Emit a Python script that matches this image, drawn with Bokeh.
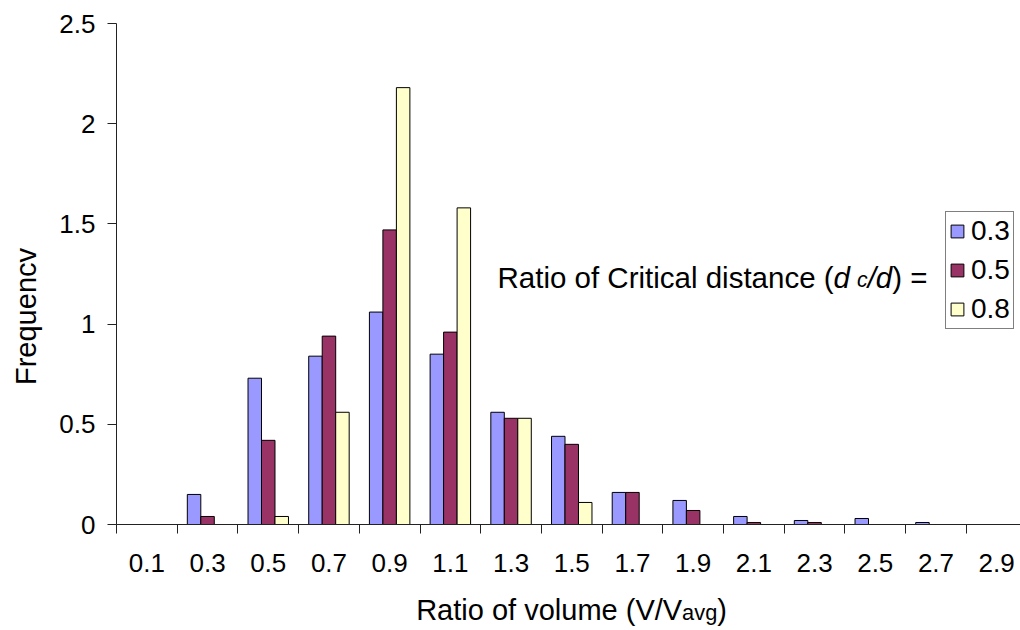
import numpy as np
from bokeh.plotting import figure
from bokeh.models import ColumnDataSource, FixedTicker, Range1d, Legend, LegendItem, Label
from bokeh.embed import file_html
from bokeh.resources import INLINE

# ---------------- data ----------------
categories = ["0.1", "0.3", "0.5", "0.7", "0.9", "1.1", "1.3", "1.5",
              "1.7", "1.9", "2.1", "2.3", "2.5", "2.7", "2.9"]
series_names = ["0.3", "0.5", "0.8"]
freq_03 = [0, 0.15, 0.73, 0.84, 1.06, 0.85, 0.56, 0.44, 0.16, 0.12, 0.04, 0.02, 0.03, 0.01, 0]
freq_05 = [0, 0.04, 0.42, 0.94, 1.47, 0.96, 0.53, 0.40, 0.16, 0.07, 0.01, 0.01, 0, 0, 0]
freq_08 = [0, 0, 0.04, 0.56, 2.18, 1.58, 0.53, 0.11, 0, 0, 0, 0, 0, 0, 0]
y_ticks = [0, 0.5, 1, 1.5, 2, 2.5]
y_tick_labels = ["0", "0.5", "1", "1.5", "2", "2.5"]
colors = ["#9999FF", "#993366", "#FFFFCC"]

FONT = "Liberation Sans"
FS_TICK = 26
FS_TITLE = 29
FS_LEG = 28

# ---------------- layout constants (pixels) ----------------
W, H = 1020, 630
ORIGIN_X, ORIGIN_Y = 116, 524      # pixel position of (0, 0)
TOP_Y = 23                         # pixel row of y = 2.5
CAT_PX = 60.7                      # width of one category
Y_PX = (ORIGIN_Y - TOP_Y) / 2.5

def xd(px):
    return (px - ORIGIN_X) / CAT_PX

def yd(py):
    return (ORIGIN_Y - py) / Y_PX

# Arial / Liberation Sans advance widths (per em)
AW = {" ": .278, "(": .333, ")": .333, "/": .278, "=": .584, ".": .278,
      "R": .722, "a": .556, "t": .278, "i": .222, "o": .556, "f": .278,
      "C": .722, "r": .333, "c": .5, "l": .222, "d": .556, "s": .5,
      "n": .556, "e": .556, "v": .5, "u": .556, "m": .833, "g": .556, "V": .667}

def tw(s, size):
    return sum(AW.get(ch, .556) for ch in s) * size

p = figure(width=W, height=H,
           x_range=Range1d(xd(0), xd(W)), y_range=Range1d(yd(H), yd(0)),
           output_backend="svg", toolbar_location=None,
           min_border=0, min_border_left=0, min_border_right=0,
           min_border_top=0, min_border_bottom=0)
p.outline_line_color = None
p.xgrid.grid_line_color = None
p.ygrid.grid_line_color = None
p.background_fill_color = "white"
p.border_fill_color = "white"

n = len(categories)
pos = np.arange(n) + 0.5
bw = 1 / 4.5
src = ColumnDataSource(dict(pos=pos, f03=freq_03, f05=freq_05, f08=freq_08))
renderers = []
for k, col in enumerate(["f03", "f05", "f08"]):
    r = p.vbar(x=pos + (k - 1) * bw, top=src.data[col], width=bw,
               fill_color=colors[k], line_color="black", line_width=1)
    renderers.append(r)

# x axis: labels at category centres, ticks at category boundaries
xa = p.xaxis[0]
xa.fixed_location = 0
xa.bounds = (0, xd(W))
xa.ticker = FixedTicker(ticks=list(pos), minor_ticks=list(range(n + 1)))
xa.major_label_overrides = {float(v): lab for v, lab in zip(pos, categories)}
xa.major_tick_out = 0
xa.major_tick_in = 0
xa.minor_tick_out = 9
xa.minor_tick_in = 0
xa.minor_tick_line_color = "#222222"
xa.axis_line_color = "#222222"
xa.major_label_text_font = FONT
xa.major_label_text_font_size = f"{FS_TICK}px"
xa.major_label_text_color = "black"
xa.major_label_standoff = 20

ya = p.yaxis[0]
ya.fixed_location = 0
ya.bounds = (0, 2.5)
ya.ticker = FixedTicker(ticks=y_ticks, minor_ticks=[])
ya.major_label_overrides = {float(v): lab for v, lab in zip(y_ticks, y_tick_labels)}
ya.major_tick_out = 9
ya.major_tick_in = 0
ya.major_tick_line_color = "#222222"
ya.axis_line_color = "#222222"
ya.major_label_text_font = FONT
ya.major_label_text_font_size = f"{FS_TICK}px"
ya.major_label_text_color = "black"
ya.major_label_standoff = 12

# legend
legend = Legend(items=[LegendItem(label=s, renderers=[r]) for s, r in zip(series_names, renderers)],
                location=(945, H - 329))
legend.label_text_font = FONT
legend.label_text_font_size = f"{FS_LEG}px"
legend.label_text_color = "black"
legend.glyph_width = 16
legend.glyph_height = 16
legend.label_standoff = 6
legend.label_height = 26
legend.spacing = 7
legend.padding = 3
legend.margin = 0
legend.border_line_color = "black"
legend.border_line_width = 1
legend.background_fill_color = "white"
legend.background_fill_alpha = 1
p.add_layout(legend)

def add_label(text, px, py, size, style="normal", angle=0, align="left"):
    p.add_layout(Label(x=xd(px), y=yd(py), text=text, text_font=FONT,
                       text_font_size=f"{size:.1f}px", text_font_style=style,
                       text_color="black", text_baseline="alphabetic",
                       text_align=align, angle=angle))

# y axis title
add_label("Frequencv", 25, 316, FS_TITLE, angle=np.pi / 2, align="center")

# legend title: "Ratio of Critical distance (d c/d ) ="
F = 29.5
base_y = 277
x = 497
t1 = "Ratio of Critical distance ("
add_label(t1, x, base_y, F)
x += tw(t1, F)
add_label("d", x, base_y, F, "italic")
x += tw("d", F) + 0.24 * F
sub = 0.72 * F
add_label("c", x, base_y + 2, sub, "italic")
x += tw("c", sub)
add_label("/d", x, base_y, F, "italic")
x += tw("/d", F)
add_label(" ) =", x, base_y, F)

# x axis title: "Ratio of volume (V/Vavg)"
F2 = FS_TITLE
xt1 = "Ratio of volume (V/V"
sub2 = 0.75 * F2
total = tw(xt1, F2) + tw("avg", sub2) + tw(")", F2)
x = 571 - total / 2
xb = 609
add_label(xt1, x, xb, F2)
x += tw(xt1, F2)
add_label("avg", x, xb + 3, sub2)
x += tw("avg", sub2)
add_label(")", x, xb, F2)

open("out.html", "w").write(file_html(p, INLINE))
